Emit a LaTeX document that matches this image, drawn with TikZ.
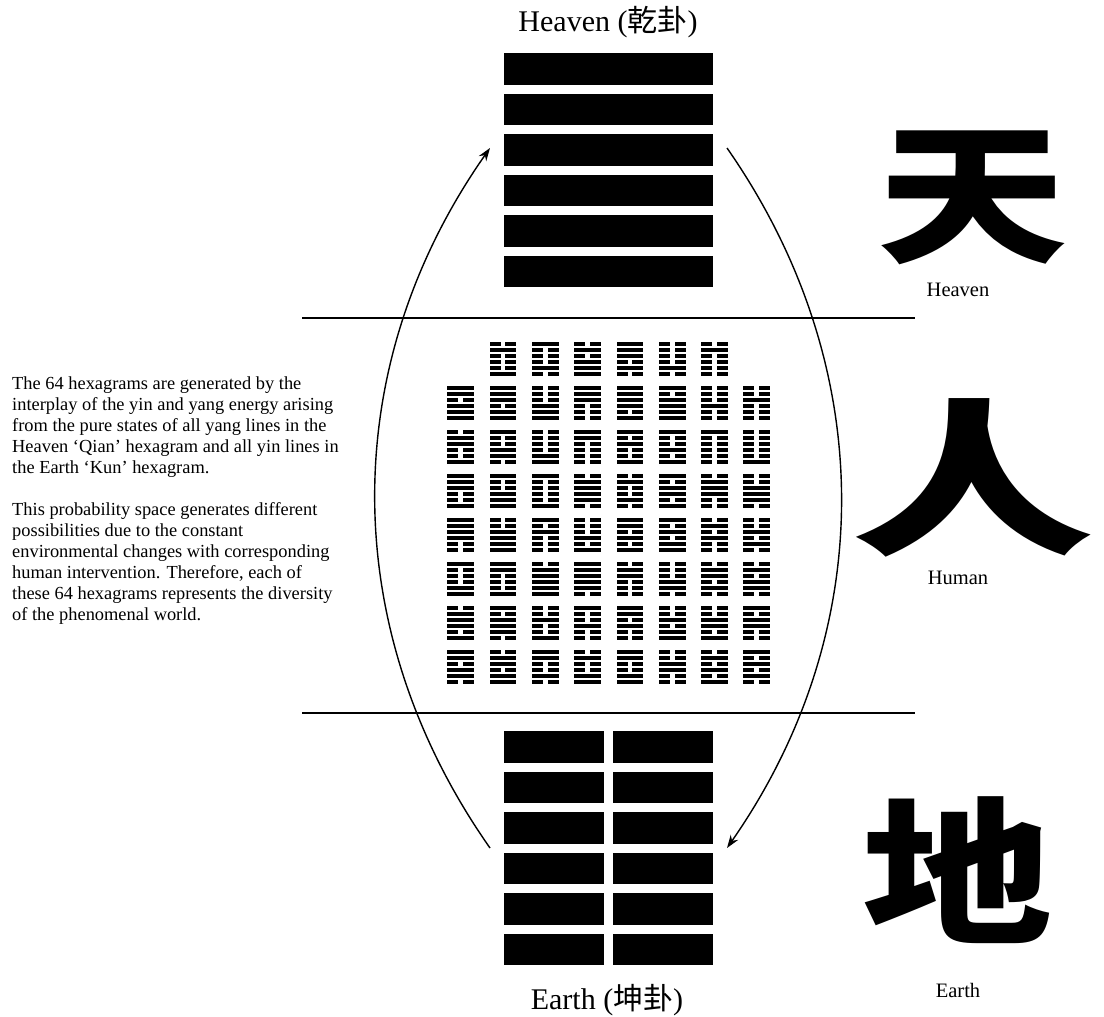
\documentclass[tikz,border=0pt]{standalone}
\usepackage{fontspec}
\setmainfont{Liberation Serif}
\newfontfamily\cjk{Noto Sans CJK SC}
\usetikzlibrary{arrows.meta}
\newcommand\hxline[2]{%
  \ifnum#1=1
    \fill (\hx,\hy+#2*5.9) rectangle ++(26.7,4);
  \else
    \fill (\hx,\hy+#2*5.9) rectangle ++(11,4);
    \fill (\hx+15.7,\hy+#2*5.9) rectangle ++(11,4);
  \fi}
\newcommand\hexa[8]{%
  \pgfmathsetmacro\hx{447.3+42.3*#1}%
  \pgfmathsetmacro\hy{342+44*#2}%
  \hxline{#3}{0}\hxline{#4}{1}\hxline{#5}{2}\hxline{#6}{3}\hxline{#7}{4}\hxline{#8}{5}}
\begin{document}
\begin{tikzpicture}[x=1pt,y=-1pt,
  rule/.style={line width=1.5pt},
  arc/.style={line width=1.4pt,-{Stealth[length=13pt,width=9pt]}},
  title/.style={inner sep=0pt,font=\fontsize{30}{34}\selectfont},
  label/.style={inner sep=0pt,font=\fontsize{20.5}{24}\selectfont},
  bigchar/.style={inner sep=0pt,font=\cjk\bfseries\fontsize{190}{195}\selectfont},
  para/.style={inner sep=0pt,anchor=north west,align=left,font=\fontsize{18.4}{21}\selectfont}]
\useasboundingbox (0,0) rectangle (1104,1017);
\fill[white] (0,0) rectangle (1104,1017);

% titles
\node[title] (heaventitle) at (608,22) {Heaven ({\cjk 乾卦})};
\node[title] (earthtitle) at (607,1000) {Earth ({\cjk 坤卦})};

% Heaven hexagram (all yang)
\foreach \i in {0,...,5}
  \fill (504,53+\i*40.5) rectangle ++(209,31.5);
% Earth hexagram (all yin)
\foreach \i in {0,...,5}{
  \fill (504,731+\i*40.5) rectangle ++(100,31.5);
  \fill (613,731+\i*40.5) rectangle ++(100,31.5);
}

% separators
\coordinate (l1a) at (302,318); \coordinate (l1b) at (915,318);
\coordinate (l2a) at (302,713); \coordinate (l2b) at (915,713);
\draw[rule] (l1a) -- (l1b);
\draw[rule] (l2a) -- (l2b);

% arcs
\coordinate (lbot) at (490,848); \coordinate (ltop) at (490,148);
\coordinate (rtop) at (727,148); \coordinate (rbot) at (727,848);
\draw[arc] (lbot) .. controls (337,630) and (337,366) .. (ltop);
\draw[arc] (rtop) .. controls (879,366) and (879,630) .. (rbot);

% 62 hexagrams
\hexa{1}{0}010001 \hexa{2}{0}100010 \hexa{3}{0}010111
\hexa{4}{0}111010 \hexa{5}{0}000010 \hexa{6}{0}010000
\hexa{0}{1}110111 \hexa{1}{1}111011 \hexa{2}{1}000111 \hexa{3}{1}111000
\hexa{4}{1}111101 \hexa{5}{1}101111 \hexa{6}{1}000100 \hexa{7}{1}001000
\hexa{0}{2}011001 \hexa{1}{2}100110 \hexa{2}{2}000011 \hexa{3}{2}110000
\hexa{4}{2}101001 \hexa{5}{2}100101 \hexa{6}{2}100000 \hexa{7}{2}000001
\hexa{0}{3}111001 \hexa{1}{3}100111 \hexa{2}{3}100001 \hexa{3}{3}011110
\hexa{4}{3}010010 \hexa{5}{3}101101 \hexa{6}{3}011100 \hexa{7}{3}001110
\hexa{0}{4}111100 \hexa{1}{4}001111 \hexa{2}{4}101000 \hexa{3}{4}000101
\hexa{4}{4}110101 \hexa{5}{4}101011 \hexa{6}{4}010100 \hexa{7}{4}001010
\hexa{0}{5}100011 \hexa{1}{5}110001 \hexa{2}{5}011111 \hexa{3}{5}111110
\hexa{4}{5}011000 \hexa{5}{5}000110 \hexa{6}{5}011010 \hexa{7}{5}010110
\hexa{0}{6}011101 \hexa{1}{6}101110 \hexa{2}{6}001001 \hexa{3}{6}100100
\hexa{4}{6}110100 \hexa{5}{6}001011 \hexa{6}{6}001101 \hexa{7}{6}101100
\hexa{0}{7}110110 \hexa{1}{7}011011 \hexa{2}{7}110010 \hexa{3}{7}010011
\hexa{4}{7}110011 \hexa{5}{7}001100 \hexa{6}{7}010101 \hexa{7}{7}101010

% left paragraph
\node[para] (text) at (12,377) {The 64 hexagrams are generated by the\\
interplay of the yin and yang energy arising\\
from the pure states of all yang lines in the\\
Heaven ‘Qian’ hexagram and all yin lines in\\
the Earth ‘Kun’ hexagram.\\[21pt]
This probability space generates different\\
possibilities due to the constant\\
environmental changes with corresponding\\
human intervention. Therefore, each of\\
these 64 hexagrams represents the diversity\\
of the phenomenal world.};

% big characters
\node[bigchar] (tian) at (972,198) {\scalebox{1}[0.8]{天}};
\node[bigchar] (ren) at (973,478) {\scalebox{1.28}[0.88]{人}};
\node[bigchar] (di) at (957,870) {\scalebox{1}[0.83]{地}};
\node[label] (lheaven) at (958,290) {Heaven};
\node[label] (lhuman) at (958,578) {Human};
\node[label] (learth) at (958,990) {Earth};
\end{tikzpicture}
\end{document}
